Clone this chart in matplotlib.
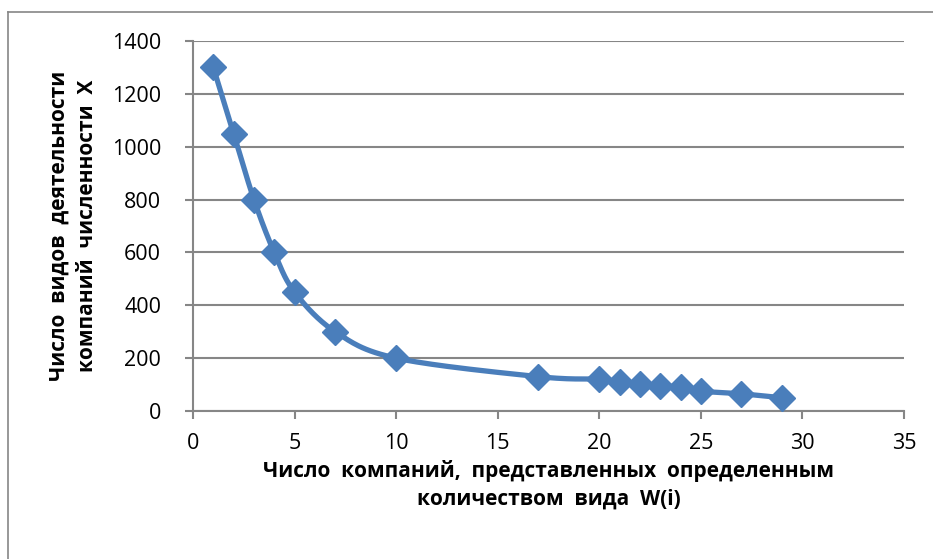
import matplotlib
matplotlib.use("Agg")
import matplotlib.pyplot as plt
from matplotlib.lines import Line2D
import numpy as np

# data
companies = [1, 2, 3, 4, 5, 7, 10, 17, 20, 21, 22, 23, 24, 25, 27, 29]
activities = [1300, 1050, 800, 600, 450, 300, 200, 130, 120, 110, 103, 96, 90, 75, 65, 50]

x_ticks = [0, 5, 10, 15, 20, 25, 30, 35]
y_ticks = [0, 200, 400, 600, 800, 1000, 1200, 1400]

x_label = "Число  компаний,  представленных  определенным\nколичеством  вида  W(i)"
y_label = "Число  видов  деятельности\nкомпаний  численности  X"

BLUE = "#4A7EBB"
GRID = "#868686"


def smooth_curve(xs, ys, steps=30):
    """Catmull-Rom path through the points (like Excel's smoothed line)."""
    px = np.asarray(xs, dtype=float)
    py = np.asarray(ys, dtype=float)
    px = np.concatenate([[px[0]], px, [px[-1]]])
    py = np.concatenate([[py[0]], py, [py[-1]]])
    out_x, out_y = [], []
    t = np.linspace(0, 1, steps)
    for i in range(1, len(px) - 2):
        for p, out in ((px, out_x), (py, out_y)):
            p0, p1, p2, p3 = p[i - 1], p[i], p[i + 1], p[i + 2]
            seg = 0.5 * ((2 * p1) + (-p0 + p2) * t
                         + (2 * p0 - 5 * p1 + 4 * p2 - p3) * t ** 2
                         + (-p0 + 3 * p1 - 3 * p2 + p3) * t ** 3)
            out.extend(seg)
    return np.array(out_x), np.array(out_y)


plt.rcParams['font.family'] = ['Open Sans', 'DejaVu Sans']

fig = plt.figure(figsize=(9.33, 5.59), dpi=100)
ax = fig.add_axes([193 / 933, 1 - 411 / 559, 711 / 933, 370 / 559])

cx, cy = smooth_curve(companies, activities)
ax.plot(cx, cy, color=BLUE, linewidth=3.8, solid_capstyle='round', zorder=3)
ax.plot(companies, activities, linestyle='none', marker='D', markersize=13,
        color=BLUE, markeredgecolor=BLUE, zorder=4)

ax.set_xlim(0, 35)
ax.set_ylim(0, 1400)
ax.set_xticks(x_ticks)
ax.set_yticks(y_ticks)
ax.yaxis.grid(True, color=GRID, linewidth=1.5)
ax.set_axisbelow(True)

for side in ('top', 'right'):
    ax.spines[side].set_visible(False)
for side in ('left', 'bottom'):
    ax.spines[side].set_color(GRID)
    ax.spines[side].set_linewidth(1.5)

ax.tick_params(axis='both', colors=GRID, width=1.5, length=6,
               labelcolor='black', labelsize=15.5)
ax.tick_params(axis='x', pad=10)
ax.tick_params(axis='y', pad=17)

ax.set_xlabel(x_label, fontsize=15, fontweight='bold', labelpad=4,
              linespacing=1.4)
ax.set_ylabel(y_label, fontsize=15, fontweight='bold', labelpad=10,
              linespacing=1.45)

# chart area frame (only left and top edges are visible in the crop)
fig.add_artist(Line2D([8 / 933, 8 / 933], [0, 1 - 12 / 559],
                      transform=fig.transFigure, color=GRID, linewidth=1.2))
fig.add_artist(Line2D([8 / 933, 1], [1 - 12 / 559, 1 - 12 / 559],
                      transform=fig.transFigure, color=GRID, linewidth=1.2))

fig.savefig("out.png", dpi=100)
